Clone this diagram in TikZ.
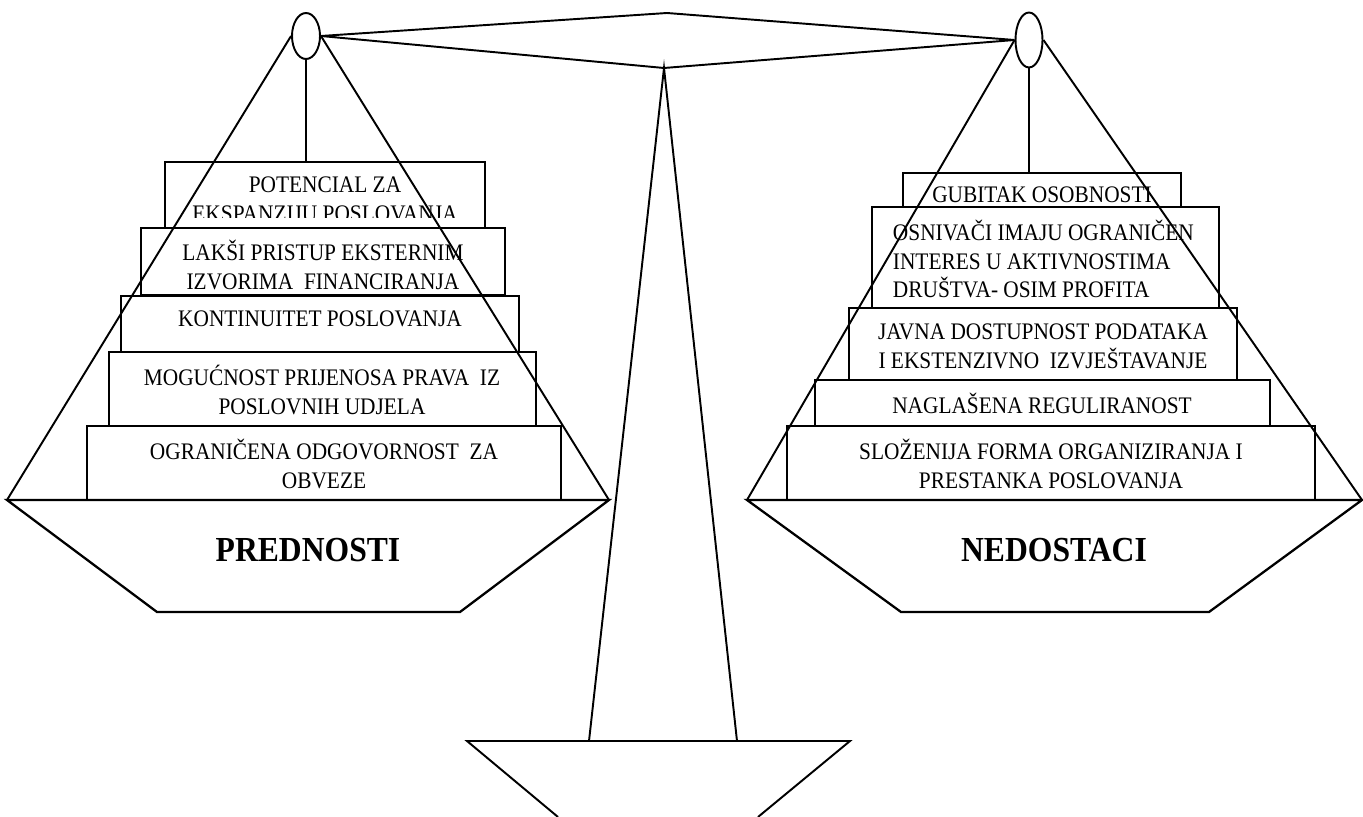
\documentclass[tikz,border=0pt]{standalone}
\usepackage{fontspec}
\setmainfont{Liberation Serif}
\newfontfamily\stackfont[FakeStretch=0.9]{Liberation Serif}
\usetikzlibrary{shapes.geometric}

\tikzset{
  ring/.style={draw, ellipse, inner sep=0pt, line width=1.1pt},
  stack/.style={draw, fill=white, line width=1.3pt},
  itm/.style={align=center, inner sep=0pt, font=\stackfont\fontsize{13.5}{16.5}\selectfont},
  pan/.style={draw, fill=white, line width=1.3pt},
  panlbl/.style={font=\stackfont\fontsize{20}{24}\selectfont\bfseries}
}

\begin{document}
\begin{tikzpicture}[x=0.02cm, y=-0.02cm, line width=1.1pt]
  \useasboundingbox (0,0) rectangle (1363,817);

  %%%%% BEAM %%%%%
  \node[ring, minimum width=0.56cm, minimum height=0.92cm] (lring) at (306,36) {};
  \node[ring, minimum width=0.54cm, minimum height=1.1cm] (rring) at (1029,40) {};
  \coordinate (apex) at (667,13);
  \coordinate (pivot) at (664,68);
  \draw (lring.east) -- (apex) -- (rring.west) -- (pivot) -- cycle;

  %%%%% STAND %%%%%
  \coordinate (footL) at (589,741);
  \coordinate (footR) at (737,741);
  \draw (footL) -- (pivot) -- (footR);
  \draw (558,817) -- (467,741) -- (850,741) -- (758,817);

  %%%%% LEFT STACK %%%%%
  \draw[stack] (165,162) rectangle (485,228);
  \begin{scope}
    \clip (165,162) rectangle (485,218);
    \node[itm] (p1) at (325,199) {POTENCIAL ZA\\EKSPANZIJU POSLOVANJA};
  \end{scope}
  \draw[stack] (141,228) rectangle (505,295);
  \node[itm] (p2) at (323,265) {LAKŠI PRISTUP EKSTERNIM\\IZVORIMA\ \ FINANCIRANJA};
  \draw[stack] (121,296) rectangle (519,352);
  \node[itm] (p3) at (320,319) {KONTINUITET POSLOVANJA};
  \draw[stack] (109,352) rectangle (536,426);
  \node[itm] (p4) at (322,390) {MOGUĆNOST PRIJENOSA PRAVA\ \ IZ\\POSLOVNIH UDJELA};
  \draw[stack] (87,426) rectangle (561,500);
  \node[itm] (p5) at (324,464) {OGRANIČENA ODGOVORNOST\ \ ZA\\OBVEZE};

  %%%%% RIGHT STACK %%%%%
  \draw[stack] (903,173) rectangle (1181,207);
  \node[itm] (n1) at (1042,195) {GUBITAK OSOBNOSTI};
  \draw[stack] (872,207) rectangle (1219,308);
  \node[itm, align=left, anchor=west] (n2) at (892,259) {OSNIVAČI IMAJU OGRANIČEN\\INTERES U AKTIVNOSTIMA\\DRUŠTVA- OSIM PROFITA};
  \draw[stack] (849,308) rectangle (1237,380);
  \node[itm] (n3) at (1043,346) {JAVNA DOSTUPNOST PODATAKA\\I EKSTENZIVNO\ \ IZVJEŠTAVANJE};
  \draw[stack] (815,380) rectangle (1270,426);
  \node[itm] (n4) at (1042,403) {NAGLAŠENA REGULIRANOST};
  \draw[stack] (787,426) rectangle (1315,500);
  \node[itm] (n5) at (1051,464) {SLOŽENIJA FORMA ORGANIZIRANJA I\\PRESTANKA POSLOVANJA};

  %%%%% STRINGS %%%%%
  \draw (lring.south) -- (lring.south |- 0,162);
  \draw (rring.south) -- (rring.south |- 0,173);

  %%%%% PANS %%%%%
  \coordinate (lpanL) at (7,500);
  \coordinate (lpanR) at (609,500);
  \draw (lring.west) -- (lpanL);
  \draw (lring.east) -- (lpanR);
  \draw[pan] (lpanL) -- (lpanR) -- (460,612) -- (157,612) -- cycle;
  \node[panlbl] (plus) at (308,550) {PREDNOSTI};

  \coordinate (rpanL) at (747,500);
  \coordinate (rpanR) at (1362,500);
  \draw (rring.west) -- (rpanL);
  \draw (rring.east) -- (rpanR);
  \draw[pan] (rpanL) -- (rpanR) -- (1209,612) -- (901,612) -- cycle;
  \node[panlbl] (minus) at (1054,550) {NEDOSTACI};
\end{tikzpicture}
\end{document}
